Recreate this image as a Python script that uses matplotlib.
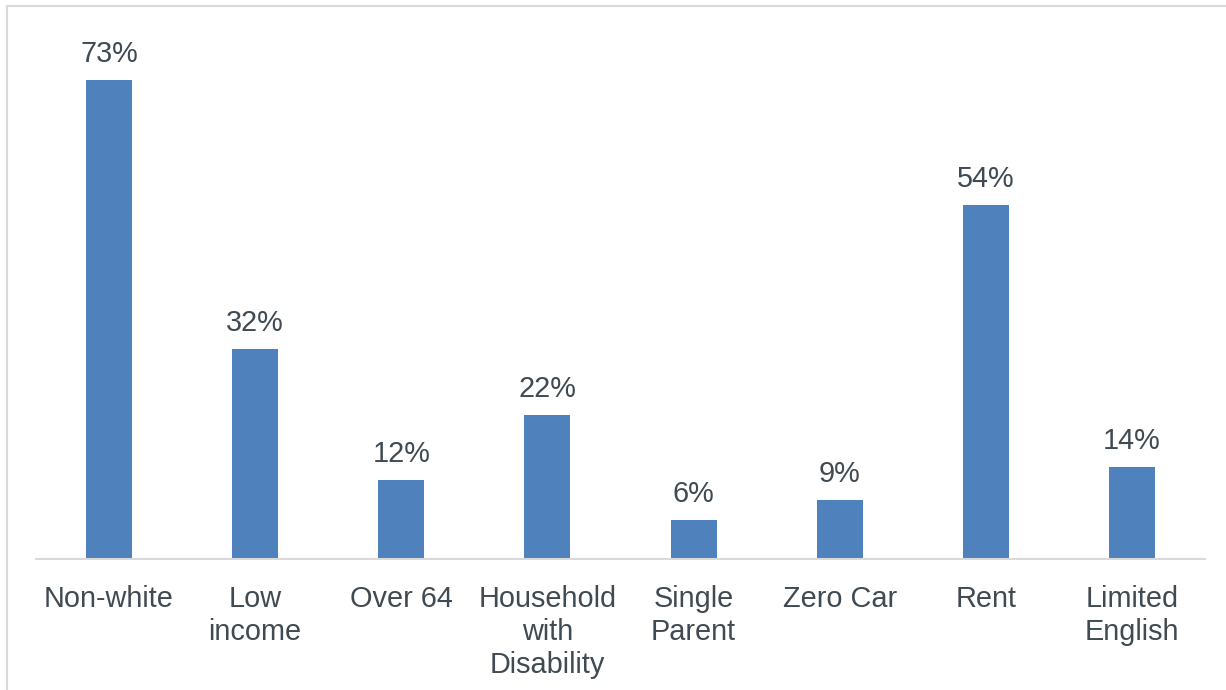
import matplotlib.pyplot as plt
from matplotlib.patches import Rectangle

plt.rcParams['font.family'] = ['Liberation Sans', 'DejaVu Sans']

categories = ["Non-white", "Low\nincome", "Over 64", "Household\nwith\nDisability",
              "Single\nParent", "Zero Car", "Rent", "Limited\nEnglish"]
values = [73, 32, 12, 22, 6, 9, 54, 14]

text_color = "#404A52"
bar_color = "#4F81BD"
grid_color = "#D9D9D9"

fig = plt.figure(figsize=(12.26, 6.9), dpi=100)
ax = fig.add_axes([36 / 1226, 1 - 559 / 690, 1169 / 1226, 525 / 690])

x = range(len(categories))
bars = ax.bar(x, values, width=0.315, color=bar_color)
for b, v in zip(bars, values):
    ax.annotate(f"{v}%", (b.get_x() + b.get_width() / 2, v),
                xytext=(0, 8.5), textcoords="offset points",
                ha="center", va="bottom", fontsize=20.8, color=text_color)

ax.set_xlim(-0.5, len(categories) - 0.5)
ax.set_ylim(0, 80)
ax.set_xticks(list(x))
ax.set_xticklabels(categories, fontsize=20.8, color=text_color, linespacing=1.22)
ax.tick_params(axis="x", length=0, pad=19)
ax.set_yticks([])
for s in ["top", "right", "left"]:
    ax.spines[s].set_visible(False)
ax.spines["bottom"].set_color(grid_color)
ax.spines["bottom"].set_linewidth(1.5)

# outer chart frame (partly cut by image edge)
fig.patches.append(Rectangle((7 / 1226, -0.05), 1.1, 1 - 6 / 690 + 0.05,
                             transform=fig.transFigure, fill=False,
                             edgecolor=grid_color, linewidth=1.5))

fig.savefig("out.png", dpi=100)
